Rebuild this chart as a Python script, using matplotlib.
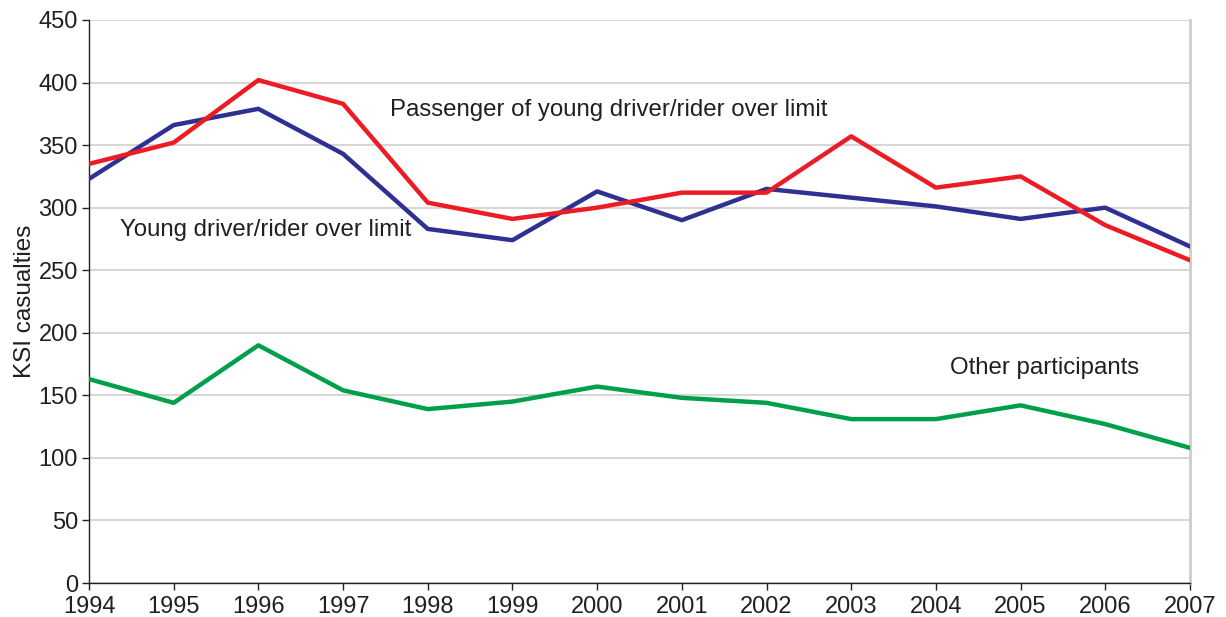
import matplotlib
matplotlib.use("Agg")
import matplotlib.pyplot as plt

plt.rcParams["font.family"] = ["Liberation Sans", "DejaVu Sans"]

years = list(range(1994, 2008))
young_driver = [323, 366, 379, 343, 283, 274, 313, 290, 315, 308, 301, 291, 300, 269]
passenger = [335, 352, 402, 383, 304, 291, 300, 312, 312, 357, 316, 325, 286, 258]
other = [163, 144, 190, 154, 139, 145, 157, 148, 144, 131, 131, 142, 127, 108]

BLUE = "#2e3192"
RED = "#ed1c24"
GREEN = "#00a04b"
TXT = "#231f20"

fig = plt.figure(figsize=(12.26, 6.17), dpi=100)
ax = fig.add_axes([0.0726, 0.0551, 0.8980, 0.9125])

ax.plot(years, young_driver, color=BLUE, lw=3.2, zorder=3)
ax.plot(years, passenger, color=RED, lw=3.2, zorder=4)
ax.plot(years, other, color=GREEN, lw=3.2, zorder=3)

ax.set_xlim(1994, 2007)
ax.set_ylim(0, 450)
ax.set_xticks(years)
ax.set_yticks(range(0, 451, 50))
ax.yaxis.grid(True, color="#d0d0d0", lw=1.2)
ax.set_axisbelow(True)

for s in ("left", "bottom"):
    ax.spines[s].set_color("#231f20")
    ax.spines[s].set_linewidth(1.0)
ax.spines["top"].set_visible(False)
ax.spines["right"].set_color("#cccccc")
ax.spines["right"].set_linewidth(2)

ax.tick_params(axis="both", direction="out", length=5, width=1,
               labelsize=17, colors=TXT)
ax.tick_params(axis="y", pad=3)
ax.tick_params(axis="x", pad=4.5)

ax.set_ylabel("KSI casualties", fontsize=17.5, color=TXT, labelpad=2)

ax.text(1997.55, 378, "Passenger of young driver/rider over limit",
        fontsize=17.3, color=TXT, va="center")
ax.text(1994.37, 282, "Young driver/rider over limit",
        fontsize=17.3, color=TXT, va="center")
ax.text(2004.17, 172, "Other participants",
        fontsize=17.3, color=TXT, va="center")

fig.savefig("out.png", dpi=100)
